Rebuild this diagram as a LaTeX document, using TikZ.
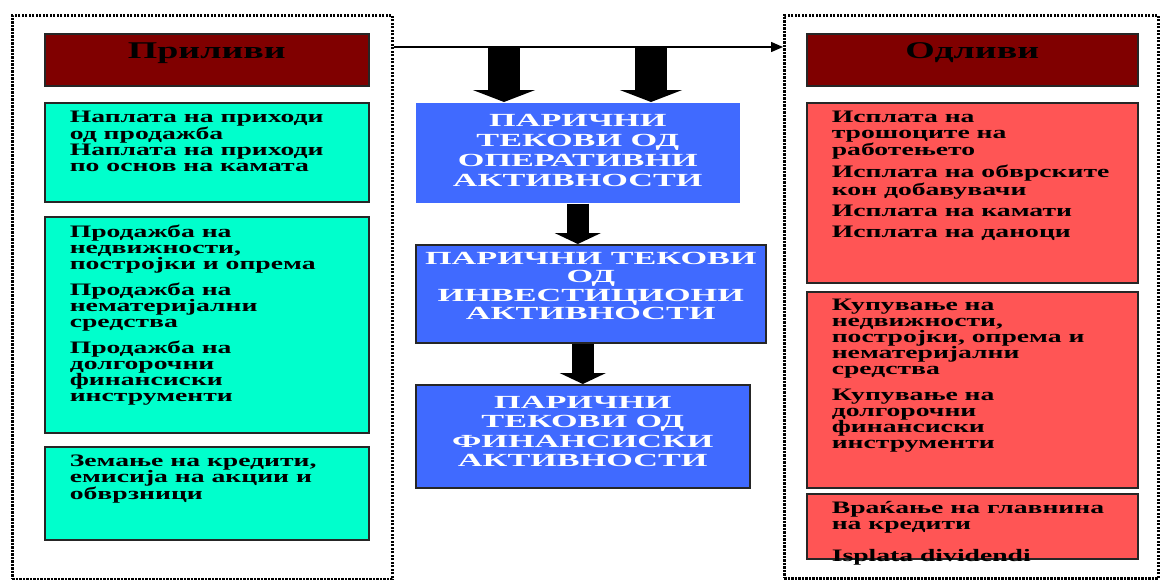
\documentclass[tikz,border=0pt]{standalone}
\usepackage{fontspec}
\setmainfont{Liberation Serif}[FakeStretch=1.58]
\newfontfamily\flowfont{Liberation Serif}[FakeStretch=1.85]
\usetikzlibrary{arrows.meta}

\definecolor{headred}{RGB}{128,0,0}
\definecolor{incyan}{RGB}{0,255,204}
\definecolor{outred}{RGB}{255,85,85}
\definecolor{flowblue}{RGB}{64,106,255}

% box of fixed size, text from the top
\newcommand{\cell}[4]{\parbox[c][#1][t]{#2}{\vspace*{#3}#4}}
\newcommand{\itemtext}{\raggedright\leftskip=25pt\relax\bfseries\fontsize{17.5}{16}\selectfont}
\newcommand{\headtext}{\centering\bfseries\fontsize{24}{24}\selectfont}
\newcommand{\flowtext}[1]{\centering\flowfont\bfseries\color{white}\fontsize{18.5}{#1}\selectfont}

\begin{document}
\begin{tikzpicture}[x=1pt,y=-1pt,
  frame/.style={draw, line width=2.8pt, dash pattern=on 2.2pt off 1.3pt, anchor=north west, inner sep=0pt},
  cellbox/.style={draw=black!85, line width=1.6pt, anchor=north west, inner sep=0pt},
  headbox/.style={cellbox, fill=headred},
  inbox/.style={cellbox, fill=incyan},
  outbox/.style={cellbox, fill=outred},
  flowbox/.style={cellbox, fill=flowblue},
  thinarrow/.style={line width=1.5pt, -{Triangle[length=12pt,width=10pt]}},
  bigarrow/.style={line width=32pt, -{Triangle[length=12pt,width=62pt]}},
  smallarrow/.style={line width=22pt, -{Triangle[length=11pt,width=46pt]}}]
\useasboundingbox (0,0) rectangle (1160,579);

% inflows
\node[frame, minimum width=380pt, minimum height=564pt] (lframe) at (11,14) {};
\node[headbox] (lhead) at (44,33) {\cell{52pt}{324pt}{9pt}{\headtext Приливи}};
\node[inbox] (in1) at (44,102) {\cell{99pt}{324pt}{8pt}{\itemtext
  Наплата на приходи\\ од продажба\\ Наплата на приходи\\ по основ на камата}};
\node[inbox] (in2) at (44,216) {\cell{216pt}{324pt}{8pt}{\itemtext
  Продажба на\\ недвижности,\\ постројки и опрема\\[9pt]
  Продажба на\\ нематеријални\\ средства\\[9pt]
  Продажба на\\ долгорочни\\ финансиски\\ инструменти}};
\node[inbox] (in3) at (44,446) {\cell{93pt}{324pt}{8pt}{\itemtext
  Земање на кредити,\\ емисија на акции и\\ обврзници}};

% outflows
\node[frame, minimum width=374pt, minimum height=563pt] (rframe) at (783,14) {};
\node[headbox] (rhead) at (806,33) {\cell{52pt}{331pt}{9pt}{\headtext Одливи}};
\node[outbox] (out1) at (806,102) {\cell{180pt}{331pt}{8pt}{\itemtext
  Исплата на\\ трошоците на\\ работењето\\[5pt]
  Исплата на обврските\\ кон добавувачи\\[5pt]
  Исплата на камати\\[5pt]
  Исплата на даноци}};
\node[outbox] (out2) at (806,291) {\cell{196pt}{331pt}{7pt}{\itemtext
  Купување на\\ недвижности,\\ постројки, опрема и\\ нематеријални\\ средства\\[10pt]
  Купување на\\ долгорочни\\ финансиски\\ инструменти}};
\node[outbox] (out3) at (806,493) {\cell{65pt}{331pt}{8pt}{\itemtext
  Враќање на главнина\\ на кредити\\[16pt]
  Isplata dividendi}};

% cash flows
\node[flowbox, draw=none] (op) at (415,102) {\cell{100pt}{324pt}{11pt}{\flowtext{20}
  ПАРИЧНИ\\ ТЕКОВИ ОД\\ ОПЕРАТИВНИ\\ АКТИВНОСТИ}};
\node[flowbox] (inv) at (415,244) {\cell{98pt}{350pt}{7pt}{\flowtext{18.5}
  ПАРИЧНИ ТЕКОВИ\\ ОД\\ ИНВЕСТИЦИОНИ\\ АКТИВНОСТИ}};
\node[flowbox] (fin) at (415,384) {\cell{103pt}{334pt}{11pt}{\flowtext{19.5}
  ПАРИЧНИ\\ ТЕКОВИ ОД\\ ФИНАНСИСКИ\\ АКТИВНОСТИ}};

\coordinate (src) at ([yshift=-33pt]lframe.north east);
\coordinate (d1) at (504,47);
\coordinate (d2) at (651,47);
\draw[thinarrow] (src) -- (src -| rframe.west);
\draw[bigarrow] (d1) -- (d1 |- op.north);
\draw[bigarrow] (d2) -- (d2 |- op.north);
\draw[smallarrow] (op.south) -- (op.south |- inv.north);
\draw[smallarrow] (inv.south -| fin.north) -- (fin.north);
\end{tikzpicture}
\end{document}
